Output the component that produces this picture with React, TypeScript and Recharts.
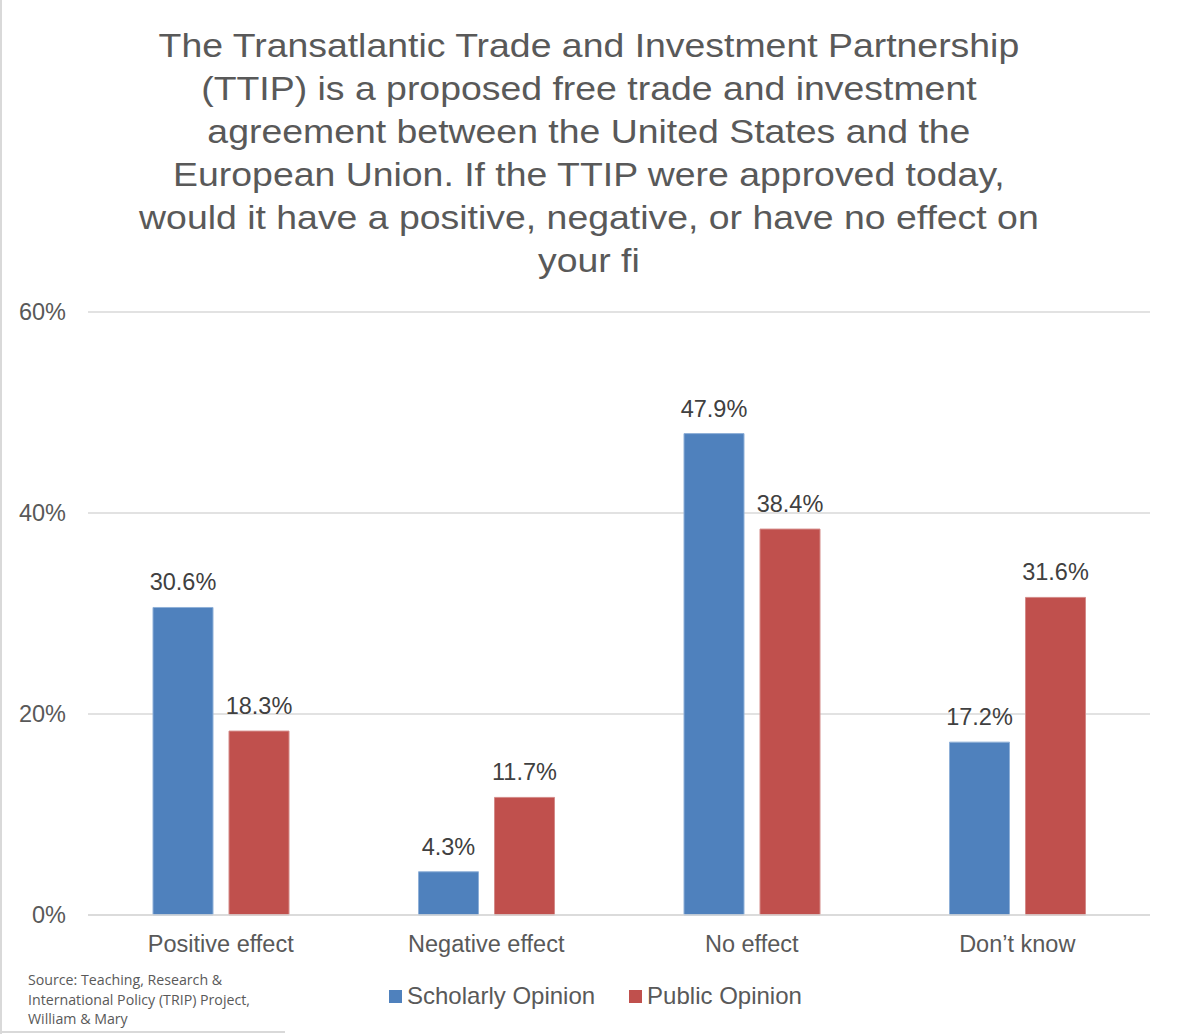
import React from 'react';
import { BarChart, Bar, XAxis, YAxis, CartesianGrid, LabelList } from 'recharts';

const categories = ['Positive effect', 'Negative effect', 'No effect', 'Don\u2019t know'];
const scholarly = [30.6, 4.3, 47.9, 17.2];
const publicOp = [18.3, 11.7, 38.4, 31.6];
const yTicks = [0, 20, 40, 60];
const titleLines = [
  'The Transatlantic Trade and Investment Partnership',
  '(TTIP) is a proposed free trade and investment',
  'agreement between the United States and the',
  'European Union. If the TTIP were approved today,',
  'would it have a positive, negative, or have no effect on',
  'your fi',
];
const sourceLines = [
  'Source: Teaching, Research &',
  'International Policy (TRIP) Project,',
  'William & Mary',
];
const seriesNames = ['Scholarly Opinion', 'Public Opinion'];
const colors = ['#4F81BD', '#C0504D'];

const data = categories.map((c, i) => ({ name: c, scholarly: scholarly[i], public: publicOp[i] }));

const FONT = '"Liberation Sans", Arial, sans-serif';

export default function App() {
  return (
    <div style={{ position: 'absolute', left: 0, top: 0, width: 1178, height: 1034, background: '#fff', fontFamily: FONT, overflow: 'hidden' }}>
      <div style={{ position: 'absolute', left: 0, top: 0, width: 2, height: 1034, background: '#d9d9d9' }} />
      <div style={{ position: 'absolute', left: 0, top: 1031, width: 285, height: 2, background: '#d9d9d9' }} />
      <div style={{ position: 'absolute', left: 0, top: 24, width: 1178, textAlign: 'center', fontSize: 34, lineHeight: '43px', color: '#595959', transform: 'scaleX(1.1)', transformOrigin: '590px 0' }}>
        {titleLines.map((l, i) => (<div key={i}>{l}</div>))}
      </div>
      <div style={{ position: 'absolute', left: 0, top: 0 }}>
        <BarChart width={1178} height={1034} data={data} margin={{ top: 312, right: 28, left: 0, bottom: 69 }} barGap={16} barSize={60}>
          <CartesianGrid vertical={false} stroke="#d9d9d9" strokeWidth={1.5} />
          <XAxis dataKey="name" height={50} axisLine={{ stroke: '#d9d9d9', strokeWidth: 1.5 }} tickLine={false} tickSize={0} tickMargin={20}
            tick={{ fill: '#595959', fontSize: 23.5, fontFamily: FONT }} interval={0} />
          <YAxis width={88} domain={[0, 60]} ticks={yTicks} axisLine={false} tickLine={false} tickSize={0} tickMargin={22}
            tickFormatter={(v: number) => `${v}%`} tick={{ fill: '#595959', fontSize: 23.5, fontFamily: FONT }} />
          <Bar dataKey="scholarly" name={seriesNames[0]} fill={colors[0]} stroke="#8fb0d8" strokeWidth={1} isAnimationActive={false}>
            <LabelList dataKey="scholarly" position="top" offset={17} formatter={(v: number) => `${v.toFixed(1)}%`}
              style={{ fill: '#404040', fontSize: 23.5, fontFamily: FONT }} />
          </Bar>
          <Bar dataKey="public" name={seriesNames[1]} fill={colors[1]} stroke="#d48a88" strokeWidth={1} isAnimationActive={false}>
            <LabelList dataKey="public" position="top" offset={17} formatter={(v: number) => `${v.toFixed(1)}%`}
              style={{ fill: '#404040', fontSize: 23.5, fontFamily: FONT }} />
          </Bar>
        </BarChart>
      </div>
      <div style={{ position: 'absolute', left: 389, top: 982, display: 'flex', alignItems: 'center', fontSize: 24, color: '#595959', whiteSpace: 'nowrap' }}>
        {seriesNames.map((n, i) => (
          <div key={n} style={{ display: 'flex', alignItems: 'center', marginRight: i === 0 ? 34 : 0 }}>
            <div style={{ width: 13, height: 13, background: colors[i], marginRight: 5 }} />
            <span>{n}</span>
          </div>
        ))}
      </div>
      <div style={{ position: 'absolute', left: 28, top: 970, fontSize: 14.2, lineHeight: '19.5px', color: '#595959', fontFamily: '"Open Sans", "Noto Sans", sans-serif' }}>
        {sourceLines.map((l, i) => (<div key={i}>{l}</div>))}
      </div>
    </div>
  );
}
